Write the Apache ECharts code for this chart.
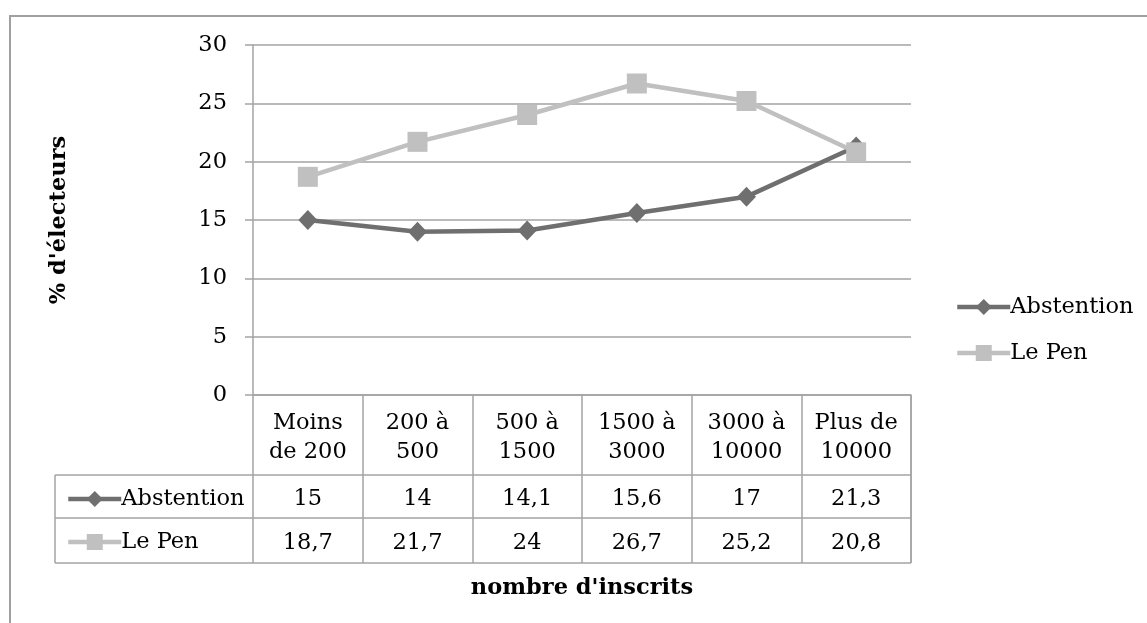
<!DOCTYPE html>
<html><head><meta charset="utf-8">
<script src="https://cdn.jsdelivr.net/npm/echarts@6/dist/echarts.min.js"></script>
<style>html,body{margin:0;padding:0;background:#fff}#c{width:1147px;height:623px}</style>
</head><body><div id="c"></div>
<script>
const categories = ['Moins\nde 200', '200 à\n500', '500 à\n1500', '1500 à\n3000', '3000 à\n10000', 'Plus de\n10000'];
const abstention = [15, 14, 14.1, 15.6, 17, 21.3];
const lePen = [18.7, 21.7, 24, 26.7, 25.2, 20.8];
const yTicks = { min: 0, max: 30, interval: 5 };

const FONT = 'DejaVu Serif';
const FS = 22.5;
const GRID = { left: 253, right: 236, top: 45, bottom: 228 };
const W = 1147, H = 623;
const axisY = H - GRID.bottom;          // x axis line y
const rowTop1 = axisY + 80, rowTop2 = axisY + 123, rowBot = axisY + 168;
const tableLeft = 55, tableRight = W - GRID.right;
const fmt = v => String(v).replace('.', ',');
const gridColor = '#a3a3a3';
const cAbs = '#6f6f6f', cLp = '#c0c0c0';

const chart = echarts.init(document.getElementById('c'), null, { renderer: 'canvas' });
const lineStyle = { type: 'solid', color: gridColor, width: 1.5 };
const legendCommon = {
  orient: 'vertical', itemWidth: 53, itemHeight: 20,
  lineStyle: { width: 4.5 },
  textStyle: { fontFamily: FONT, fontSize: FS, color: '#000', lineHeight: 24, padding: [0, 0, 0, -5] },
  data: ['Abstention', 'Le Pen']
};
chart.setOption({
  animation: false,
  backgroundColor: '#fff',
  textStyle: { fontFamily: FONT },
  grid: GRID,
  legend: [
    Object.assign({}, legendCommon, { left: 950, top: 290, itemGap: 22 }),
    Object.assign({}, legendCommon, { left: 61, top: rowTop1 + 7, itemGap: 19 })
  ],
  xAxis: [
    {
      type: 'category', data: categories, boundaryGap: true, position: 'bottom',
      axisLine: { show: true, lineStyle: lineStyle },
      axisTick: { show: true, length: rowBot - axisY, interval: 0, lineStyle: lineStyle },
      axisLabel: { interval: 0, margin: 14, fontFamily: FONT, fontSize: FS, color: '#000', lineHeight: 29, align: 'center' },
      name: "nombre d'inscrits", nameLocation: 'middle', nameGap: 182,
      nameTextStyle: { fontFamily: FONT, fontSize: FS, fontWeight: 'bold', color: '#000' }
    },
    {
      type: 'category', data: abstention.map(fmt), position: 'bottom', offset: 84,
      axisLine: { show: false }, axisTick: { show: false },
      axisLabel: { interval: 0, margin: 8, fontFamily: FONT, fontSize: FS, color: '#000', lineHeight: 24 }
    },
    {
      type: 'category', data: lePen.map(fmt), position: 'bottom', offset: 128,
      axisLine: { show: false }, axisTick: { show: false },
      axisLabel: { interval: 0, margin: 8, fontFamily: FONT, fontSize: FS, color: '#000', lineHeight: 24 }
    }
  ],
  yAxis: {
    type: 'value', min: yTicks.min, max: yTicks.max, interval: yTicks.interval,
    axisLine: { show: true, lineStyle: lineStyle },
    axisTick: { show: true, length: 8, lineStyle: lineStyle },
    splitLine: { show: true, lineStyle: lineStyle },
    axisLabel: { margin: 26, fontFamily: FONT, fontSize: FS, color: '#000' },
    name: "% d'électeurs", nameLocation: 'middle', nameGap: 182, nameRotate: 90,
    nameTextStyle: { fontFamily: FONT, fontSize: FS, fontWeight: 'bold', color: '#000' }
  },
  series: [
    {
      name: 'Abstention', type: 'line', data: abstention, xAxisIndex: 0,
      symbol: 'diamond', symbolSize: [19, 20],
      lineStyle: { color: cAbs, width: 4.5 }, itemStyle: { color: cAbs },
      z: 3
    },
    {
      name: 'Le Pen', type: 'line', data: lePen, xAxisIndex: 0,
      symbol: 'rect', symbolSize: 20,
      lineStyle: { color: cLp, width: 4.5 }, itemStyle: { color: cLp },
      z: 4
    }
  ],
  graphic: [
    { type: 'rect', shape: { x: 10, y: 16, width: 1300, height: 800 }, style: { fill: 'none', stroke: '#a0a0a0', lineWidth: 2 }, silent: true, z: -1 },
    { type: 'line', shape: { x1: tableLeft, y1: rowTop1, x2: tableRight, y2: rowTop1 }, style: { stroke: gridColor, lineWidth: 1.5 } },
    { type: 'line', shape: { x1: tableLeft, y1: rowTop2, x2: tableRight, y2: rowTop2 }, style: { stroke: gridColor, lineWidth: 1.5 } },
    { type: 'line', shape: { x1: tableLeft, y1: rowBot, x2: tableRight, y2: rowBot }, style: { stroke: gridColor, lineWidth: 1.5 } },
    { type: 'line', shape: { x1: tableLeft, y1: rowTop1, x2: tableLeft, y2: rowBot }, style: { stroke: gridColor, lineWidth: 1.5 } },
    { type: 'line', shape: { x1: tableRight, y1: axisY, x2: tableRight, y2: rowBot }, style: { stroke: gridColor, lineWidth: 1.5 } }
  ]
});
</script></body></html>
